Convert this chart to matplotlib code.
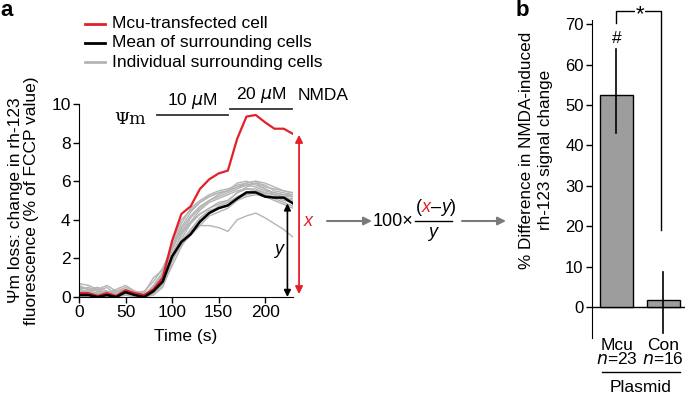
import numpy as np
import matplotlib
matplotlib.use("Agg")
import matplotlib.pyplot as plt
from matplotlib.lines import Line2D

plt.rcParams['font.family'] = ['Liberation Sans', 'DejaVu Sans']
plt.rcParams['mathtext.fontset'] = 'dejavusans'
plt.rcParams['font.size'] = 12.5

# ---- data (panel a) ----
time_s = np.arange(0, 231, 10)
mcu_cell = [0.2, 0.2, 0.05, 0.2, 0.05, 0.35, 0.2, 0.1, 0.4, 1.0, 2.9, 4.3,
            4.7, 5.6, 6.1, 6.4, 6.55, 8.2, 9.35, 9.43, 9.05, 8.72, 8.72, 8.45]
mean_cells = [0.1, 0.1, 0.0, 0.1, 0.0, 0.25, 0.1, 0.0, 0.3, 0.8, 2.1, 2.85,
              3.25, 3.9, 4.35, 4.6, 4.75, 5.1, 5.42, 5.42, 5.2, 5.15, 5.15, 4.85]
cells = [
    [0.7, 0.6, 0.4, 0.6, 0.3, 0.5, 0.3, 0.2, 1.0, 1.4, 2.6, 3.8, 4.6, 5.0, 5.3, 5.5, 5.6, 5.8, 5.9, 6.0, 5.7, 5.6, 5.5, 5.4],
    [0.5, 0.4, 0.5, 0.3, 0.2, 0.4, 0.2, 0.1, 0.5, 1.2, 2.4, 3.5, 4.2, 4.7, 5.0, 5.2, 5.4, 5.6, 5.8, 5.9, 5.8, 5.5, 5.4, 5.3],
    [0.3, 0.2, 0.1, 0.3, 0.1, 0.3, 0.1, 0.0, 0.3, 0.9, 2.0, 3.0, 3.8, 4.3, 4.6, 4.9, 5.0, 5.4, 5.7, 5.9, 5.6, 5.3, 5.2, 5.2],
    [0.2, 0.3, 0.2, 0.1, 0.2, 0.2, 0.1, 0.0, 0.2, 0.6, 1.6, 2.6, 3.4, 4.0, 4.4, 4.7, 4.9, 5.2, 5.4, 5.5, 5.3, 5.1, 4.9, 4.7],
    [0.1, 0.0, 0.1, 0.2, 0.0, 0.1, 0.0, 0.0, 0.1, 0.5, 1.8, 2.9, 3.4, 3.7, 3.7, 3.6, 3.4, 4.0, 4.2, 4.35, 4.1, 3.8, 3.5, 3.1],
    [0.4, 0.5, 0.3, 0.2, 0.4, 0.6, 0.3, 0.1, 0.6, 1.3, 2.8, 4.0, 4.5, 4.9, 5.2, 5.4, 5.5, 5.7, 5.8, 5.7, 5.5, 5.4, 5.3, 5.2],
    [0.0, 0.1, 0.0, 0.1, 0.0, 0.2, 0.0, 0.0, 0.2, 0.7, 1.9, 2.7, 3.2, 3.7, 4.2, 4.4, 4.6, 5.0, 5.2, 5.3, 5.2, 5.0, 4.8, 4.6],
    [0.6, 0.4, 0.3, 0.5, 0.1, 0.4, 0.2, 0.1, 0.4, 1.0, 2.2, 3.2, 3.9, 4.5, 4.9, 5.1, 5.3, 5.5, 5.6, 5.6, 5.4, 5.3, 5.2, 5.0],
    [0.2, 0.1, 0.2, 0.0, 0.1, 0.3, 0.1, 0.0, 0.3, 0.8, 2.1, 3.3, 4.1, 4.6, 5.0, 5.3, 5.5, 5.9, 6.0, 5.8, 5.6, 5.4, 5.3, 5.3],
    [0.3, 0.3, 0.2, 0.3, 0.2, 0.1, 0.2, 0.1, 0.5, 1.1, 2.5, 3.6, 4.4, 4.9, 5.2, 5.4, 5.5, 5.7, 5.9, 6.0, 5.9, 5.7, 5.5, 5.4],
    [0.1, 0.2, 0.1, 0.2, 0.1, 0.2, 0.1, 0.1, 0.3, 0.8, 2.0, 2.9, 3.5, 4.1, 4.5, 4.6, 4.7, 5.1, 5.3, 5.4, 5.3, 5.2, 5.0, 4.9],
    [0.4, 0.3, 0.4, 0.2, 0.3, 0.4, 0.2, 0.3, 0.8, 1.5, 2.6, 3.4, 3.9, 4.3, 4.6, 4.8, 5.0, 5.4, 5.6, 5.5, 5.4, 5.3, 5.1, 5.1],
]
nmda_steps = ['10 $\\mu$M', '20 $\\mu$M']
nmda_start = [84, 162]
nmda_end = [160, 229]
nmda_level = [9.43, 9.74]

# ---- data (panel b) ----
plasmid = ['Mcu', 'Con']
n_cells = [23, 16]
pct_diff = [52.5, 1.8]
err_lo = [43.0, -6.5]
err_hi = [63.8, 8.7]

RED = '#e3202a'
GRAY = '#b4b4b4'
ARROW = '#7a7a7a'

W, H = 685, 404
fig = plt.figure(figsize=(W / 100, H / 100), dpi=100)
renderer = fig.canvas.get_renderer()


def fx(x):
    return x / W


def fy(y):
    return 1 - y / H


def text_row(pieces, x0, y0, size):
    # put text pieces one after another, measuring each
    x = x0
    for s, kw in pieces:
        t = fig.text(fx(x), fy(y0), s, ha='left', va='center', fontsize=size, **kw)
        x += t.get_window_extent(renderer=renderer).width
    return x


# panel a
ax = fig.add_axes([79 / W, 1 - 297 / H, 214 / W, 193 / H])
for c in cells:
    ax.plot(time_s, c, color=GRAY, lw=1.0, zorder=1)
ax.plot(time_s, mcu_cell, color=RED, lw=1.6, zorder=2)
ax.plot(time_s, mean_cells, color='black', lw=1.8, zorder=3)
ax.set_xlim(0, 230)
ax.set_ylim(0, 10)
ax.set_xticks([0, 50, 100, 150, 200])
ax.set_yticks([0, 2, 4, 6, 8, 10])
for s in ['top', 'right']:
    ax.spines[s].set_visible(False)
ax.tick_params(direction='out', length=4, width=1, labelsize=12.5, pad=2)
ax.set_xlabel('Time (s)', fontsize=12.5, labelpad=6)
ax.set_ylabel('\u03a8m loss: change in rh-123\nfluorescence (% of FCCP value)',
              fontsize=12.5, labelpad=9, linespacing=1.05)

for lab, t0, t1, lv in zip(nmda_steps, nmda_start, nmda_end, nmda_level):
    ax.plot([t0, t1], [lv, lv], color='#333333', lw=1.3, clip_on=False)
    ax.text((t0 + t1) / 2, lv + 0.2, lab, ha='center', va='bottom', fontsize=12.5)
ax.text(235, 10.05, 'NMDA', ha='left', va='bottom', fontsize=12.5)
ax.text(55, 9.2, '\u03a8m', ha='center', va='center', fontsize=12.5,
        family=['DejaVu Serif'])

ax.annotate('', xy=(236.5, 8.4), xytext=(236.5, 0.15),
            arrowprops=dict(arrowstyle='<|-|>', color=RED, lw=1.3,
                            mutation_scale=11, shrinkA=0, shrinkB=0),
            annotation_clip=False)
ax.text(246, 3.9, 'x', color=RED, style='italic', fontsize=13,
        ha='center', va='center')
ax.annotate('', xy=(224, 4.85), xytext=(224, 0.0),
            arrowprops=dict(arrowstyle='<|-|>', color='black', lw=1.2,
                            mutation_scale=10, shrinkA=0, shrinkB=0),
            annotation_clip=False)
ax.text(214, 2.45, 'y', style='italic', fontsize=13, ha='center', va='center')

# legend
leg_items = [('Mcu-transfected cell', RED), ('Mean of surrounding cells', 'black'),
             ('Individual surrounding cells', GRAY)]
for i, (lab, col) in enumerate(leg_items):
    yy = 24 + i * 19
    fig.add_artist(Line2D([fx(85), fx(105)], [fy(yy), fy(yy)], color=col, lw=2,
                          transform=fig.transFigure))
    fig.text(fx(112), fy(yy), lab, ha='left', va='center', fontsize=12.5)

# formula between panels
ax.annotate('', xy=(fx(372), fy(221)), xytext=(fx(327), fy(221)),
            xycoords='figure fraction', textcoords='figure fraction',
            arrowprops=dict(arrowstyle='-|>', color=ARROW, lw=1.5,
                            mutation_scale=12, shrinkA=0, shrinkB=0),
            annotation_clip=False)
text_row([('100\u00d7', {})], 373, 221, 13)
text_row([('(', {}), ('x', dict(style='italic', color=RED)), ('\u2013', {}),
          ('y', dict(style='italic')), (')', {})], 416, 207, 13)
fig.add_artist(Line2D([fx(415), fx(452)], [fy(221), fy(221)], color='black', lw=1,
                      transform=fig.transFigure))
fig.text(fx(433), fy(233), 'y', ha='center', va='center', fontsize=13, style='italic')
ax.annotate('', xy=(fx(506), fy(221)), xytext=(fx(462), fy(221)),
            xycoords='figure fraction', textcoords='figure fraction',
            arrowprops=dict(arrowstyle='-|>', color=ARROW, lw=1.5,
                            mutation_scale=12, shrinkA=0, shrinkB=0),
            annotation_clip=False)

# panel b
bx = fig.add_axes([592 / W, 1 - 339.3 / H, 92.6 / W, 335.3 / H])
xpos = np.arange(len(plasmid))
bx.bar(xpos, pct_diff, width=0.7, color='#9d9d9d', edgecolor='black', lw=1, zorder=2)
for xp, lo, hi in zip(xpos, err_lo, err_hi):
    bx.plot([xp, xp], [lo, hi], color='black', lw=1.2, zorder=3)
bx.axhline(0, color='black', lw=1, zorder=1)
bx.set_xlim(-0.52, 1.45)
bx.set_ylim(-8, 75)
bx.set_yticks(np.arange(0, 71, 10))
bx.set_xticks([])
for s in ['top', 'right', 'bottom']:
    bx.spines[s].set_visible(False)
bx.spines['left'].set_bounds(-7.8, 71)
bx.tick_params(direction='out', length=4, width=1, labelsize=12, pad=2)
fig.text(fx(536), fy(150), '% Difference in NMDA-induced\nrh-123 signal change',
         rotation=90, ha='center', va='center', multialignment='center',
         fontsize=12.3, linespacing=1.35)
bx.plot([0, 0, 0.95, 0.95], [70.2, 73.3, 73.3, 19], color='black', lw=1, clip_on=False)
bx.text(0.5, 72.3, '*', ha='center', va='center', fontsize=16,
        bbox=dict(fc='white', ec='none', pad=0.5))
bx.text(0, 66.5, '#', ha='center', va='center', fontsize=12.5)
for xp, lab, n in zip(xpos, plasmid, n_cells):
    fig.text(fx(617 + xp * 46), fy(345), lab, ha='center', va='center', fontsize=12.5)
    fig.text(fx(617 + xp * 46), fy(359), '$n$=%d' % n, ha='center', va='center',
             fontsize=12.5)
fig.add_artist(Line2D([fx(602), fx(680)], [fy(372), fy(372)], color='black', lw=1,
                      transform=fig.transFigure))
fig.text(fx(641), fy(387), 'Plasmid', ha='center', va='center', fontsize=12.5)

fig.text(fx(7), fy(11), 'a', fontsize=16, fontweight='bold', ha='center', va='center')
fig.text(fx(522), fy(11), 'b', fontsize=16, fontweight='bold', ha='center', va='center')

fig.savefig('out.png', dpi=100)
